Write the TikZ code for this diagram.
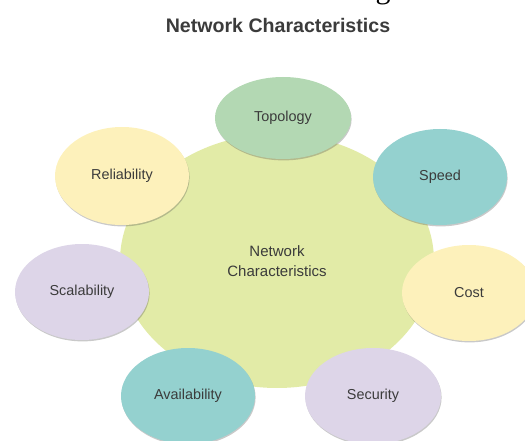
\documentclass[tikz,border=0pt]{standalone}
\usepackage{fontspec}
\setsansfont{Liberation Sans}
\newfontfamily\headserif{Liberation Serif}
\usepackage{tikz}
\usetikzlibrary{shapes.geometric,shadows}
\definecolor{hubgreen}{HTML}{E2EBA7}
\definecolor{topogreen}{HTML}{B3D8B3}
\definecolor{tealblue}{HTML}{94D1CF}
\definecolor{paleyellow}{HTML}{FDF1BB}
\definecolor{lavender}{HTML}{DDD5E8}
\definecolor{inkgray}{HTML}{3B3B3B}
\tikzset{
  labeltext/.style = {text=inkgray, font=\sffamily\fontsize{14.4}{17}\selectfont},
  hub/.style = {labeltext, ellipse, inner sep=0pt, fill=hubgreen, align=center,
    font=\sffamily\fontsize{15}{20}\selectfont,
    minimum width=314pt, minimum height=254pt},% grand cercle central
  bubble/.style = {labeltext, ellipse, inner sep=0pt,
    minimum width=134pt, minimum height=96pt,
    drop shadow={shadow xshift=0.6pt, shadow yshift=-1.4pt,
      opacity=0.3, fill=black!70}},% bulle autour
  bub_t/.style = {bubble, fill=topogreen},% vert
  bub_b/.style = {bubble, fill=tealblue},% bleu
  bub_y/.style = {bubble, fill=paleyellow},% jaune
  bub_l/.style = {bubble, fill=lavender},% lavande
  heading/.style = {text=inkgray, font=\sffamily\bfseries\fontsize{19.6}{23}\selectfont}
}

\begin{document}
\begin{tikzpicture}[x=1pt, y=-1pt]
  \useasboundingbox (0,0) rectangle (525,441);
  \node [anchor=base, font=\headserif\fontsize{30}{30}\selectfont] (cut) at (383,-1.5) {g};
  \node [heading] (title) at (278,25) {Network Characteristics};
  \node [hub] (hub) at (277,261) {Network\\Characteristics};
  \node [bub_t, minimum width=136pt, minimum height=82pt] (topo) at (283,118) {Topology};
  \node [bub_b] (speed) at (440,177) {Speed};
  \node [bub_y] (cost) at (469,293) {Cost};
  \node [bub_l, minimum width=136pt] (secu) at (373,396) {Security};
  \node [bub_b] (avail) at (188,396) {Availability};
  \node [bub_l] (scal) at (82,292) {Scalability};
  \node [bub_y, minimum height=98pt] (reli) at (122,176) {Reliability};
\end{tikzpicture}
\end{document}
